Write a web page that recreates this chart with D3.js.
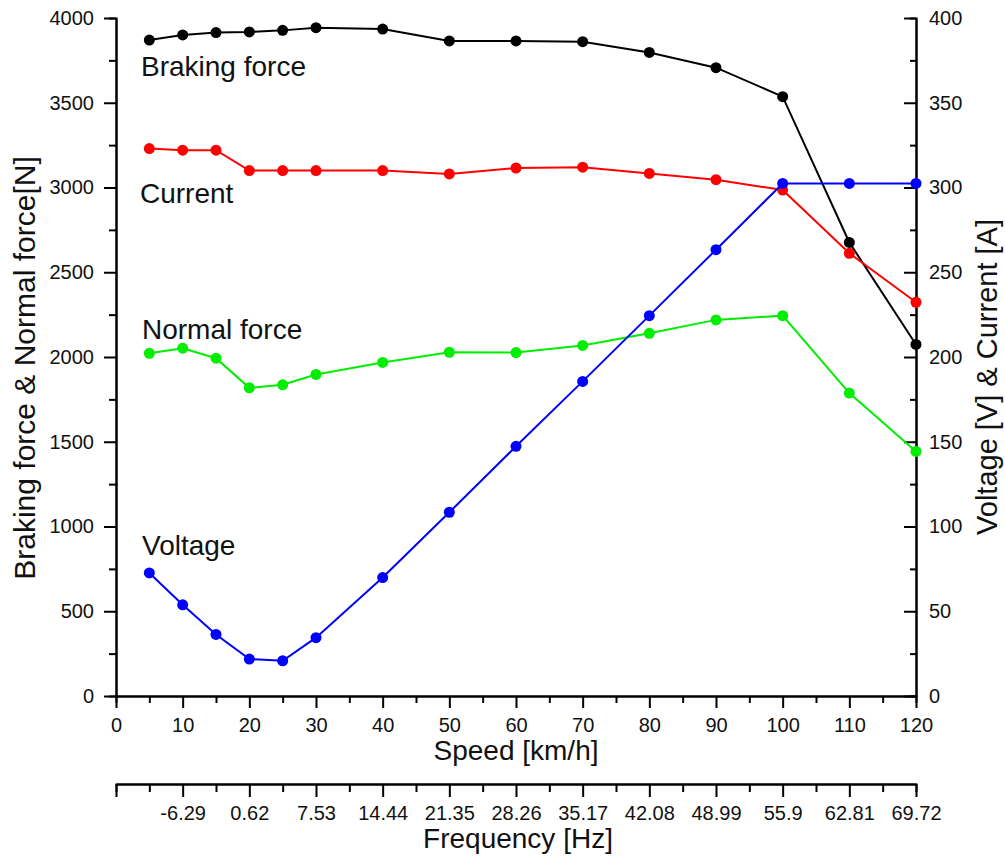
<!DOCTYPE html>
<html>
<head>
<meta charset="utf-8">
<script src="https://cdn.jsdelivr.net/npm/d3@7"></script>
<style>
  body { margin: 0; background: #fff; }
  svg { font-family: "Liberation Sans", Arial, sans-serif; }
  .axis path, .axis line { stroke: #000; stroke-width: 2; }
  .axis text { font-family: "Liberation Sans", Arial, sans-serif; font-size: 20px; fill: #111; }
  .title { font-size: 28px; fill: #111; }
</style>
</head>
<body>
<div id="chart"></div>
<script>
// speed [km/h]
var speeds = [5, 10, 15, 20, 25, 30, 40, 50, 60, 70, 80, 90, 100, 110, 120];
// left axis [N]
var brakingForce = [3870, 3900, 3914, 3918, 3927, 3943, 3935, 3865, 3865, 3860, 3797, 3707, 3536, 2676, 2074];
var normalForce = [2022, 2052, 1993, 1818, 1836, 1897, 1968, 2028, 2026, 2068, 2140, 2219, 2244, 1787, 1443];
// right axis [V] / [A]
var current = [323, 322, 322, 310, 310, 310, 310, 308, 311.5, 312, 308.3, 304.6, 298.5, 261.2, 232.3];
var voltage = [72.6, 53.8, 36.3, 21.8, 20.8, 34.4, 69.9, 108.4, 147.3, 185.6, 224.4, 263.3, 302.4, 302.4, 302.4];

var speedTicks = [0, 10, 20, 30, 40, 50, 60, 70, 80, 90, 100, 110, 120];
var freqLabels = ["", "-6.29", "0.62", "7.53", "14.44", "21.35", "28.26", "35.17", "42.08", "48.99", "55.9", "62.81", "69.72"];
var leftTicks = [0, 500, 1000, 1500, 2000, 2500, 3000, 3500, 4000];
var rightTicks = [0, 50, 100, 150, 200, 250, 300, 350, 400];

var series = [
    {name: "Braking force", values: brakingForce, axis: "left", color: "#000000", lx: 141, ly: 76},
    {name: "Current", values: current, axis: "right", color: "#ff0000", lx: 140, ly: 203},
    {name: "Normal force", values: normalForce, axis: "left", color: "#00ee00", lx: 142, ly: 339},
    {name: "Voltage", values: voltage, axis: "right", color: "#0000ff", lx: 142, ly: 555}
];

var W = 1005, H = 856;
var x0 = 116, x1 = 916, yTop = 18, yBot = 696;

var svg = d3.select("#chart").append("svg")
    .attr("width", W)
    .attr("height", H);

var xScale = d3.scaleLinear().domain([0, 120]).range([x0, x1]);
var yLeft = d3.scaleLinear().domain([0, 4000]).range([yBot, yTop]);
var yRight = d3.scaleLinear().domain([0, 400]).range([yBot, yTop]);

function minorTicks(ticks) {
    var out = [];
    for (var i = 0; i < ticks.length - 1; i++) out.push((ticks[i] + ticks[i + 1]) / 2);
    return out;
}

// left axis
svg.append("g").attr("class", "axis")
    .attr("transform", "translate(" + x0 + ",0)")
    .call(d3.axisLeft(yLeft).tickValues(minorTicks(leftTicks)).tickSize(7).tickFormat(""));
svg.append("g").attr("class", "axis")
    .attr("transform", "translate(" + x0 + ",0)")
    .call(d3.axisLeft(yLeft).tickValues(leftTicks).tickSizeInner(12).tickSizeOuter(0).tickPadding(10)
        .tickFormat(d3.format("d")));

// right axis (ticks inward)
svg.append("g").attr("class", "axis")
    .attr("transform", "translate(" + x1 + ",0)")
    .call(d3.axisRight(yRight).tickValues(minorTicks(rightTicks)).tickSize(-6).tickFormat(""));
svg.append("g").attr("class", "axis")
    .attr("transform", "translate(" + x1 + ",0)")
    .call(d3.axisRight(yRight).tickValues(rightTicks).tickSizeInner(-12).tickSizeOuter(0).tickPadding(13)
        .tickFormat(d3.format("d")));

// speed axis
svg.append("g").attr("class", "axis")
    .attr("transform", "translate(0," + yBot + ")")
    .call(d3.axisBottom(xScale).tickValues(minorTicks(speedTicks)).tickSize(7).tickFormat(""));
var sx = svg.append("g").attr("class", "axis")
    .attr("transform", "translate(0," + yBot + ")")
    .call(d3.axisBottom(xScale).tickValues(speedTicks).tickSizeInner(12).tickSizeOuter(0)
        .tickFormat(d3.format("d")));
sx.selectAll("text").attr("y", 36).attr("dy", 0);

// frequency axis
var yFreq = 784;
svg.append("g").attr("class", "axis")
    .attr("transform", "translate(0," + yFreq + ")")
    .call(d3.axisBottom(xScale).tickValues(minorTicks(speedTicks)).tickSize(8).tickFormat(""));
var fx = svg.append("g").attr("class", "axis")
    .attr("transform", "translate(0," + yFreq + ")")
    .call(d3.axisBottom(xScale).tickValues(speedTicks).tickSizeInner(13).tickSizeOuter(0)
        .tickFormat((d, i) => freqLabels[i]));
fx.selectAll("text").attr("y", 36).attr("dy", 0);

// lines and points
var line = d3.line();
series.forEach(function(s) {
    var yS = s.axis == "left" ? yLeft : yRight;
    var pts = speeds.map((d, i) => [xScale(d), yS(s.values[i])]);
    svg.append("path")
        .attr("d", line(pts))
        .attr("fill", "none")
        .attr("stroke", s.color)
        .attr("stroke-width", 2);
    svg.selectAll(null)
        .data(pts)
        .enter().append("circle")
        .attr("cx", d => d[0])
        .attr("cy", d => d[1])
        .attr("r", 5.5)
        .attr("fill", s.color);
    svg.append("text")
        .attr("class", "title")
        .attr("x", s.lx)
        .attr("y", s.ly)
        .text(s.name);
});

// axis titles
svg.append("text").attr("class", "title")
    .attr("x", (x0 + x1) / 2).attr("y", 760)
    .attr("text-anchor", "middle")
    .text("Speed [km/h]");
svg.append("text").attr("class", "title")
    .attr("x", (x0 + x1) / 2 + 2).attr("y", 848)
    .attr("text-anchor", "middle")
    .text("Frequency [Hz]");
svg.append("text").attr("class", "title")
    .style("font-size", "30px")
    .attr("transform", "translate(35,368) rotate(-90)")
    .attr("text-anchor", "middle")
    .text("Braking force & Normal force[N]");
svg.append("text").attr("class", "title")
    .style("font-size", "29px")
    .attr("transform", "translate(997,377) rotate(-90)")
    .attr("text-anchor", "middle")
    .text("Voltage [V] & Current [A]");
</script>
</body>
</html>
